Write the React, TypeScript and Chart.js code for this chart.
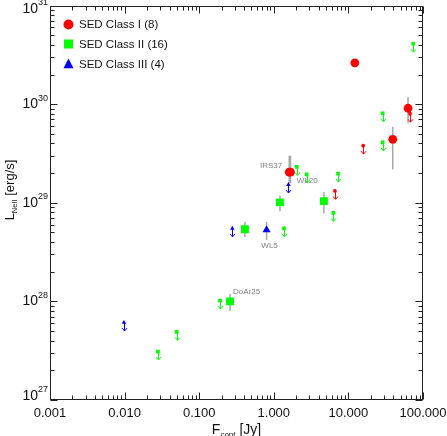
import React, { useEffect, useRef } from 'react';
import { Chart, registerables } from 'chart.js';

Chart.register(...registerables);

const RED = '#ff0000';
const GREEN = '#00ff00';
const BLUE = '#0000ff';
const ERR = '#a8a8a8';
const FONT = '"Liberation Sans", Arial, Helvetica, sans-serif';

// ---- Class I (red) detections ----
const c1F = [12.2, 63, 39.3, 1.61, 1.675];
const c1L = [2.63e30, 9.1e29, 4.4e29, 2.05e29, 2.05e29];
const c1Lo = [null, 6.4e29, 2.18e29, 1.58e29, 1.58e29];
const c1Hi = [null, 1.18e30, 5.9e29, 3.0e29, 3.0e29];
// ---- Class I upper limits ----
const c1UlF = [15.8, 6.6, 67];
const c1UlL = [3.8e29, 1.32e29, 8.0e29];

// ---- Class II (green) detections ----
const c2F = [0.259, 0.41, 1.21, 4.7];
const c2L = [1.0e28, 5.4e28, 1.01e29, 1.04e29];
const c2Lo = [8.0e27, 4.5e28, 8.2e28, 7.8e28];
const c2Hi = [1.19e28, 6.4e28, 1.18e29, 1.29e29];
// ---- Class II upper limits ----
const c2UlF = [0.028, 0.05, 0.19, 1.37, 2.03, 2.76, 7.26, 6.28, 28.8, 28.8, 74];
const c2UlL = [3.1e27, 4.9e27, 1.02e28, 5.5e28, 2.31e29, 1.94e29, 1.98e29, 7.9e28, 8.1e29, 4.1e29, 4.1e30];

// ---- Class III (blue) detections ----
const c3F = [0.8];
const c3L = [5.3e28];
const c3Lo = [4.2e28];
const c3Hi = [6.4e28];
// ---- Class III upper limits ----
const c3UlF = [0.0098, 0.278, 1.57];
const c3UlL = [6.1e27, 5.5e28, 1.53e29];

// ---- source labels ----
const srcNames = ['IRS37', 'WL20', 'WL5', 'DoAr25'];
const srcF = [1.61, 2.76, 0.8, 0.259];
const srcL = [2.05e29, 1.94e29, 5.3e28, 1.0e28];

// ---- legend ----
const legendLabels = ['SED Class I (8)', 'SED Class II (16)', 'SED Class III (4)'];

// ---- ticks ----
const xTickValues = [0.001, 0.01, 0.1, 1, 10, 100];
const xTickLabels = ['0.001', '0.010', '0.100', '1.000', '10.000', '100.000'];
const yTickExps = [27, 28, 29, 30, 31];

const pts = (xs: number[], ys: number[]) => xs.map((x, i) => ({ x, y: ys[i] }));

function drawMarker(ctx: CanvasRenderingContext2D, style: string, x: number, y: number, s: number, color: string) {
  ctx.fillStyle = color;
  ctx.beginPath();
  if (style === 'circle') {
    ctx.arc(x, y, s / 2, 0, Math.PI * 2);
  } else if (style === 'rect') {
    ctx.rect(x - s / 2, y - s / 2, s, s);
  } else {
    ctx.moveTo(x, y - s * 0.55);
    ctx.lineTo(x + s / 2, y + s * 0.42);
    ctx.lineTo(x - s / 2, y + s * 0.42);
    ctx.closePath();
  }
  ctx.fill();
}

export default function App() {
  const ref = useRef<HTMLCanvasElement>(null);

  useEffect(() => {
    const canvas = ref.current!;

    const bars = [
      { F: c1F, L: c1L, lo: c1Lo, hi: c1Hi },
      { F: c2F, L: c2L, lo: c2Lo, hi: c2Hi },
      { F: c3F, L: c3L, lo: c3Lo, hi: c3Hi },
    ];
    const limits = [
      { F: c1UlF, L: c1UlL, color: RED },
      { F: c2UlF, L: c2UlL, color: GREEN },
      { F: c3UlF, L: c3UlL, color: BLUE },
    ];

    const plugin = {
      id: 'decor',
      beforeDatasetsDraw(chart: any) {
        const ctx = chart.ctx as CanvasRenderingContext2D;
        const xs = chart.scales.x;
        const ys = chart.scales.y;
        ctx.save();
        // error bars
        ctx.strokeStyle = ERR;
        ctx.lineWidth = 1.5;
        bars.forEach((b) => {
          b.F.forEach((f, i) => {
            const lo = b.lo[i];
            const hi = b.hi[i];
            if (lo == null || hi == null) return;
            const px = xs.getPixelForValue(f);
            ctx.beginPath();
            ctx.moveTo(px, ys.getPixelForValue(hi));
            ctx.lineTo(px, ys.getPixelForValue(lo));
            ctx.stroke();
          });
        });
        // upper limit arrows
        ctx.lineWidth = 1;
        limits.forEach((l) => {
          ctx.strokeStyle = l.color;
          l.F.forEach((f, i) => {
            const px = Math.round(xs.getPixelForValue(f)) + 0.5;
            const py = ys.getPixelForValue(l.L[i]);
            ctx.beginPath();
            ctx.moveTo(px, py);
            ctx.lineTo(px, py + 8);
            ctx.moveTo(px - 2.5, py + 5.5);
            ctx.lineTo(px, py + 8.5);
            ctx.lineTo(px + 2.5, py + 5.5);
            ctx.stroke();
          });
        });
        ctx.restore();
      },
      afterDraw(chart: any) {
        const ctx = chart.ctx as CanvasRenderingContext2D;
        const xs = chart.scales.x;
        const ys = chart.scales.y;
        const a = chart.chartArea;
        const L = Math.round(a.left) + 0.5;
        const R = Math.round(a.right) - 0.5;
        const T = Math.round(a.top) + 0.5;
        const B = Math.round(a.bottom) - 0.5;
        ctx.save();
        ctx.strokeStyle = '#222';
        ctx.lineWidth = 1;
        ctx.strokeRect(L, T, R - L, B - T);

        const MAJ = 7;
        const MIN = 4;
        ctx.beginPath();
        // x ticks
        for (let e = -3; e <= 2; e++) {
          for (let m = 1; m <= 9; m++) {
            const v = m * Math.pow(10, e);
            if (v > 100.0001) continue;
            const px = Math.round(xs.getPixelForValue(v)) + 0.5;
            const len = m === 1 ? MAJ : MIN;
            ctx.moveTo(px, B);
            ctx.lineTo(px, B - len);
            ctx.moveTo(px, T);
            ctx.lineTo(px, T + len);
          }
        }
        // y ticks
        for (let e = 27; e <= 31; e++) {
          for (let m = 1; m <= 9; m++) {
            if (e === 31 && m > 1) continue;
            const v = m * Math.pow(10, e);
            const py = Math.round(ys.getPixelForValue(v)) + 0.5;
            const len = m === 1 ? MAJ : MIN;
            ctx.moveTo(L, py);
            ctx.lineTo(L + len, py);
            ctx.moveTo(R, py);
            ctx.lineTo(R - len, py);
          }
        }
        ctx.stroke();

        // x tick labels
        ctx.fillStyle = '#111';
        ctx.font = `13px ${FONT}`;
        ctx.textAlign = 'center';
        ctx.textBaseline = 'middle';
        xTickValues.forEach((v, i) => {
          ctx.fillText(xTickLabels[i], xs.getPixelForValue(v), 413);
        });

        // y tick labels 10^n
        yTickExps.forEach((e) => {
          let py = ys.getPixelForValue(Math.pow(10, e));
          py = Math.max(9, Math.min(396, py));
          const sup = String(e);
          ctx.font = `9px ${FONT}`;
          const sw = ctx.measureText(sup).width;
          ctx.textAlign = 'right';
          ctx.textBaseline = 'middle';
          ctx.fillText(sup, a.left - 2, py - 6);
          ctx.font = `14px ${FONT}`;
          ctx.fillText('10', a.left - 2 - sw, py);
        });

        // x axis title: F_cont [Jy]
        {
          const parts = [
            { t: 'F', f: 14, dy: 0 },
            { t: 'cont', f: 8, dy: 3 },
            { t: ' [Jy]', f: 14, dy: 0 },
          ];
          let w = 0;
          parts.forEach((p) => {
            ctx.font = `${p.f}px ${FONT}`;
            w += ctx.measureText(p.t).width;
          });
          let x = (a.left + a.right) / 2 - w / 2;
          ctx.textAlign = 'left';
          ctx.textBaseline = 'alphabetic';
          parts.forEach((p) => {
            ctx.font = `${p.f}px ${FONT}`;
            ctx.fillText(p.t, x, 434 + p.dy);
            x += ctx.measureText(p.t).width;
          });
        }
        // y axis title: L_NeII [erg/s]
        {
          const parts = [
            { t: 'L', f: 13, dy: 0 },
            { t: 'NeII', f: 7.5, dy: 3 },
            { t: ' [erg/s]', f: 13, dy: 0 },
          ];
          let w = 0;
          parts.forEach((p) => {
            ctx.font = `${p.f}px ${FONT}`;
            w += ctx.measureText(p.t).width;
          });
          ctx.save();
          ctx.translate(13.5, 190);
          ctx.rotate(-Math.PI / 2);
          let x = -w / 2;
          ctx.textAlign = 'left';
          ctx.textBaseline = 'alphabetic';
          parts.forEach((p) => {
            ctx.font = `${p.f}px ${FONT}`;
            ctx.fillText(p.t, x, p.dy);
            x += ctx.measureText(p.t).width;
          });
          ctx.restore();
        }

        // source labels
        ctx.fillStyle = '#808080';
        ctx.font = `8px ${FONT}`;
        ctx.textBaseline = 'middle';
        const offs = [
          { dx: -7, dy: -6, al: 'right' },
          { dx: -10, dy: 6, al: 'left' },
          { dx: 3, dy: 16, al: 'center' },
          { dx: 3, dy: -10, al: 'left' },
        ];
        srcNames.forEach((n, i) => {
          const px = xs.getPixelForValue(srcF[i]);
          const py = ys.getPixelForValue(srcL[i]);
          ctx.textAlign = offs[i].al as CanvasTextAlign;
          ctx.fillText(n, px + offs[i].dx, py + offs[i].dy);
        });

        // legend
        const colors = [RED, GREEN, BLUE];
        const styles = ['circle', 'rect', 'triangle'];
        const rows = [24.5, 44, 64];
        ctx.font = `11.5px ${FONT}`;
        ctx.textAlign = 'left';
        ctx.textBaseline = 'middle';
        legendLabels.forEach((t, i) => {
          drawMarker(ctx, styles[i], 68.5, rows[i], i === 1 ? 9 : 10, colors[i]);
          ctx.fillStyle = '#111';
          ctx.fillText(t, 79, rows[i] + 0.5);
        });
        ctx.restore();
      },
    };

    const chart = new Chart(canvas, {
      type: 'scatter',
      data: {
        datasets: [
          { label: 'ClassIIIlim', data: pts(c3UlF, c3UlL), pointStyle: 'triangle', pointRadius: 2.6, backgroundColor: BLUE, borderColor: BLUE, pointBorderWidth: 0 },
          { label: 'ClassIIlim', data: pts(c2UlF, c2UlL), pointStyle: 'rect', pointRadius: 2.6, backgroundColor: GREEN, borderColor: GREEN, pointBorderWidth: 0 },
          { label: 'ClassIlim', data: pts(c1UlF, c1UlL), pointStyle: 'circle', pointRadius: 1.9, backgroundColor: RED, borderColor: RED, pointBorderWidth: 0 },
          { label: 'ClassIII', data: pts(c3F, c3L), pointStyle: 'triangle', pointRadius: 4.7, backgroundColor: BLUE, borderColor: BLUE, pointBorderWidth: 0 },
          { label: 'ClassII', data: pts(c2F, c2L), pointStyle: 'rect', pointRadius: 5.6, backgroundColor: GREEN, borderColor: GREEN, pointBorderWidth: 0 },
          { label: 'ClassI', data: pts(c1F, c1L), pointStyle: 'circle', pointRadius: 4.4, backgroundColor: RED, borderColor: RED, pointBorderWidth: 0 },
        ] as any,
      },
      options: {
        responsive: false,
        animation: false,
        devicePixelRatio: 1,
        events: [],
        layout: { padding: { left: 50, top: 5, right: 24, bottom: 36 } },
        plugins: { legend: { display: false }, tooltip: { enabled: false } },
        scales: {
          x: { type: 'logarithmic', min: 0.001, max: 100, display: false },
          y: { type: 'logarithmic', min: 1e27, max: 1e31, display: false },
        },
      } as any,
      plugins: [plugin],
    });
    return () => chart.destroy();
  }, []);

  return (
    <div style={{ position: 'absolute', left: 0, top: 0, width: 447, height: 436, background: '#fff' }}>
      <canvas ref={ref} width={447} height={436} style={{ display: 'block' }} />
    </div>
  );
}
